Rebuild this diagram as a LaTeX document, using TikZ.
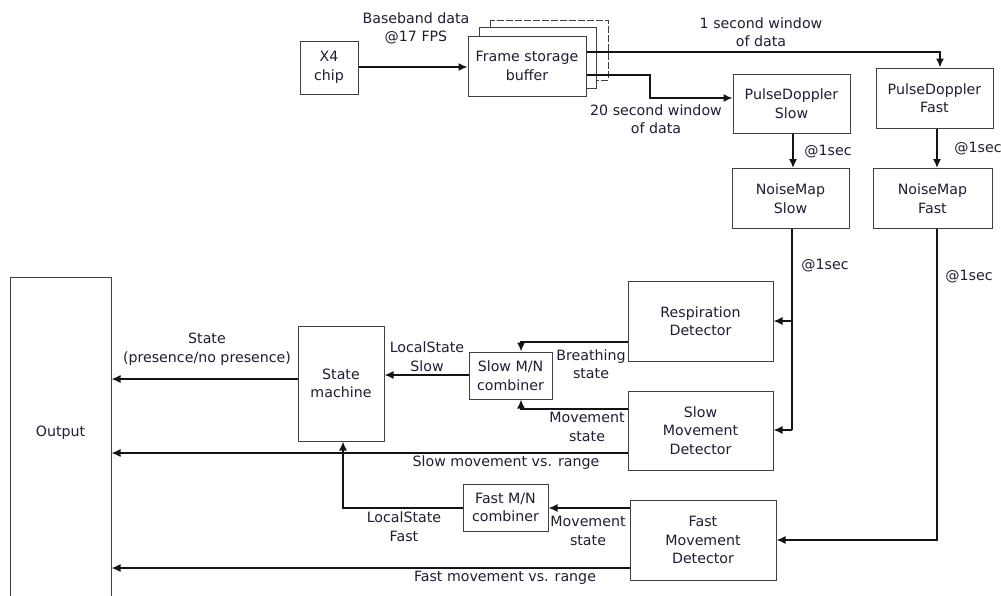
\documentclass[tikz,border=0pt]{standalone}
\usepackage{fontspec}
\setmainfont{DejaVu Sans}
\usetikzlibrary{arrows.meta}
\definecolor{textc}{RGB}{30,30,50}
\definecolor{linec}{RGB}{20,20,20}
\definecolor{boxc}{RGB}{64,64,64}
\begin{document}
\begin{tikzpicture}[x=1pt,y=-1pt,
  every node/.style={font=\fontsize{14.2}{18.5}\selectfont, text=textc, align=center, inner sep=0pt},
  box/.style={draw=boxc, line width=1pt, fill=white},
  conn/.style={draw=linec, line width=1.5pt, -{Latex[length=9pt,width=8pt]}},
  plain/.style={draw=linec, line width=1.5pt}]
\useasboundingbox (0,0) rectangle (1001,595);
\clip (0,0) rectangle (1001,595);
% frame storage back layers
\draw[boxc, line width=1pt, dash pattern=on 7pt off 2pt] (490,20) rectangle (608,80);
\draw[boxc, line width=1pt, fill=white] (479,27) rectangle (596,88);
% boxes
\node[box, minimum width=58, minimum height=53] (x4) at (329,67.5) {X4\\chip};
\node[box, minimum width=118, minimum height=60] (fsb) at (527,66) {Frame storage\\buffer};
\node[box, minimum width=117, minimum height=59] (pds) at (791.5,103.5) {PulseDoppler\\Slow};
\node[box, minimum width=117, minimum height=60] (pdf) at (934.5,98) {PulseDoppler\\Fast};
\node[box, minimum width=117, minimum height=60] (nms) at (790.5,198.5) {NoiseMap\\Slow};
\node[box, minimum width=119, minimum height=60] (nmf) at (932.5,198.5) {NoiseMap\\Fast};
\node[box, minimum width=145, minimum height=80] (resp) at (700.5,321) {Respiration\\Detector};
\node[box, minimum width=145, minimum height=79] (smd) at (700.5,430.5) {Slow\\Movement\\Detector};
\node[box, minimum width=146, minimum height=80] (fmd) at (703,540) {Fast\\Movement\\Detector};
\node[box, minimum width=101, minimum height=340, anchor=north] (out) at (60.5,277) {};
\node (outlbl) at (60.5,433) {Output};
\node[box, minimum width=86, minimum height=115] (sm) at (341,383.5) {State\\machine};
\node[box, minimum width=83, minimum height=47] (smn) at (510.5,375.5) {Slow M/N\\combiner};
\node[box, minimum width=85, minimum height=47] (fmn) at (505.5,507.5) {Fast M/N\\combiner};
% helper coordinates
\coordinate (a1) at (940,52);
\coordinate (a2) at (650,75);
\coordinate (a3) at (650,98);
\coordinate (b1) at (792,321);
\coordinate (b2) at (792,430);
\coordinate (c1) at (937,540);
\coordinate (d1) at (521,342);
\coordinate (d2) at (521,409);
\coordinate (e1) at (343,508);
% connectors
\draw[conn] (x4.east |- 0,67) -- (fsb.west |- 0,67);
\draw[conn] (fsb.east |- 0,52) -- (a1) -- (pdf.north -| a1);
\draw[conn] (fsb.east |- a2) -- (a2) -- (a3) -- (pds.west |- a3);
\draw[conn] (pds.south -| 793,0) -- (nms.north -| 793,0);
\draw[conn] (pdf.south -| 937,0) -- (nmf.north -| 937,0);
\draw[plain] (nms.south -| b1) -- (b2);
\draw[conn] (b1) -- (resp.east |- b1);
\draw[conn] (b2) -- (smd.east |- b2);
\draw[conn] (nmf.south -| c1) -- (c1) -- (fmd.east |- c1);
\draw[conn] (resp.west |- d1) -- (d1) -- (smn.north -| d1);
\draw[conn] (smd.west |- d2) -- (d2) -- (smn.south -| d2);
\draw[conn] (smn.west |- 0,375) -- (sm.east |- 0,375);
\draw[conn] (sm.west |- 0,379) -- (out.east |- 0,379);
\draw[conn] (smd.west |- 0,453) -- (out.east |- 0,453);
\draw[conn] (fmd.west |- 0,508) -- (fmn.east |- 0,508);
\draw[conn] (fmn.west |- e1) -- (e1) -- (sm.south -| e1);
\draw[conn] (fmd.west |- 0,568) -- (out.east |- 0,568);
% labels
\node (l1) at (416,28.5) {Baseband data\\@17 FPS};
\node (l2) at (761,32) {1 second window\\of data};
\node (l3) at (656,119) {20 second window\\of data};
\node (l4) at (828,152) {@1sec};
\node (l5) at (978,149) {@1sec};
\node (l6) at (825,266) {@1sec};
\node (l7) at (969,277) {@1sec};
\node (l8) at (207,349) {State\\(presence/no presence)};
\node (l9) at (427,356.5) {LocalState\\Slow};
\node (l10) at (591,364) {Breathing\\state};
\node (l11) at (587,427) {Movement\\state};
\node (l12) at (506,463) {Slow movement vs. range};
\node (l13) at (404,526.5) {LocalState\\Fast};
\node (l14) at (588,531) {Movement\\state};
\node (l15) at (505,578) {Fast movement vs. range};
\end{tikzpicture}
\end{document}
